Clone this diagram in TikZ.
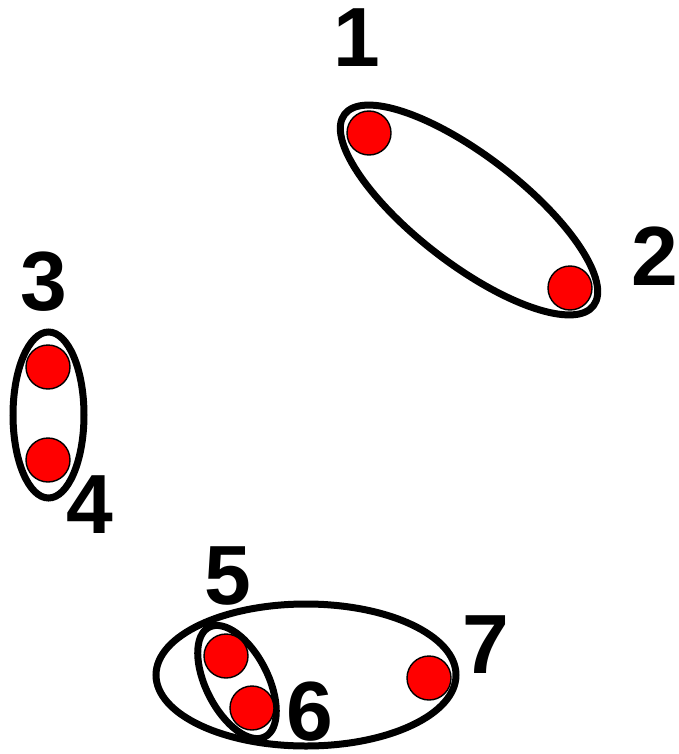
\documentclass[tikz,border=0pt]{standalone}
\usepackage{fontspec}
\setsansfont{Liberation Sans}
\usetikzlibrary{positioning}
\definecolor{dotred}{HTML}{FF0000}

\begin{document}
\begin{tikzpicture}[
    x=1pt, y=-1pt,
    dot/.style={
        circle, draw=black, fill=dotred, minimum size=44pt, inner sep=0pt,
        line width=1.4pt
    },
    ring/.style={
        draw=black, line width=7pt
    },
    num/.style={
        font=\sffamily\bfseries\fontsize{84}{90}\selectfont, inner sep=0pt
    }
]
\useasboundingbox (0,0) rectangle (678,754);

% Rings (drawn first)
\draw[ring] (469,210) ellipse [x radius=157, y radius=54, rotate=-37.6];
\draw[ring] (48.5,415) ellipse [x radius=35.5, y radius=83];
\draw[ring] (306,675) ellipse [x radius=150, y radius=71];
\draw[ring] (237,682) ellipse [x radius=61.5, y radius=31, rotate=-63];

% Dots
\node[dot] (d1) at (369,133) {};
\node[dot] (d2) at (570,288) {};
\node[dot] (d3) at (48,367) {};
\node[dot] (d4) at (48,460) {};
\node[dot] (d5) at (226,656) {};
\node[dot] (d6) at (252,708) {};
\node[dot] (d7) at (429,678) {};

% Labels
\node[num] (n1) at (357,38) {1};
\node[num] (n2) at (655,256) {2};
\node[num] (n3) at (44,282) {3};
\node[num] (n4) at (90,505) {4};
\node[num] (n5) at (228,576) {5};
\node[num] (n6) at (310,712) {6};
\node[num] (n7) at (486,645) {7};

\end{tikzpicture}
\end{document}
